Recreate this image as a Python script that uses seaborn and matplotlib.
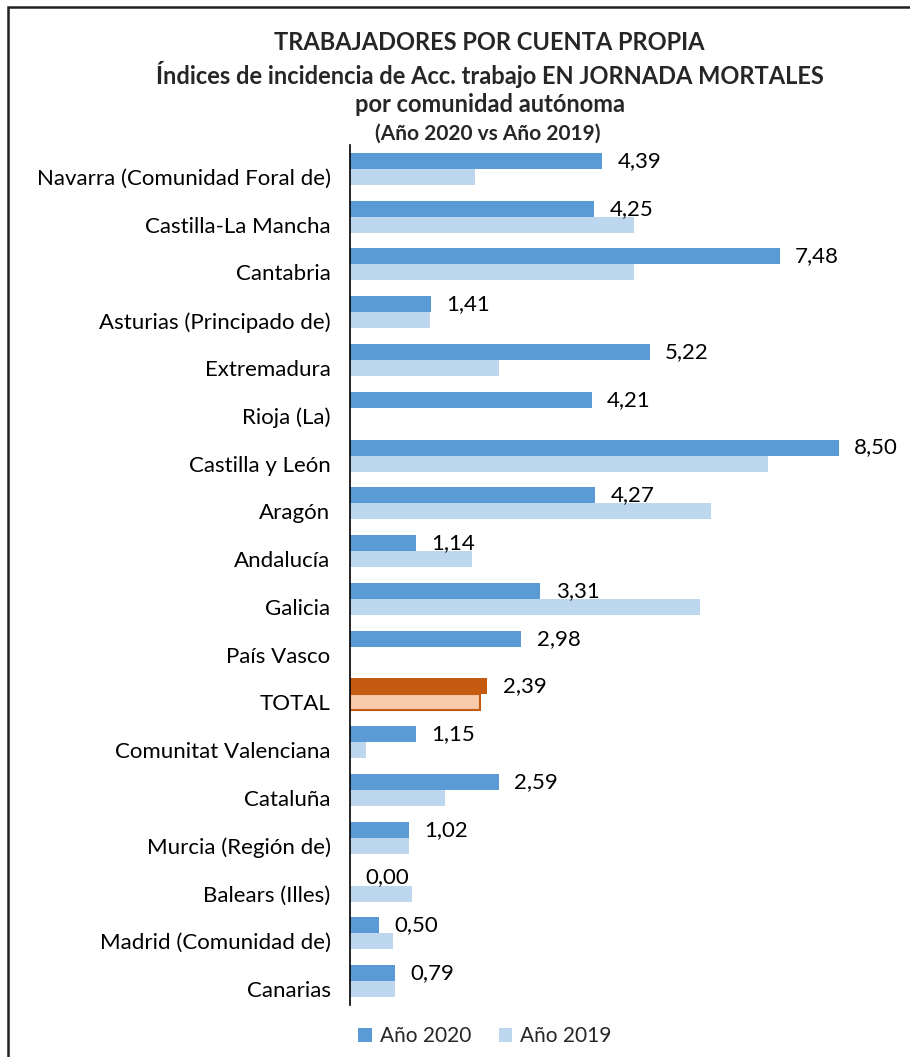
import matplotlib
matplotlib.use("Agg")
import matplotlib.pyplot as plt
import matplotlib.transforms as mtransforms
import seaborn as sns
import pandas as pd
from matplotlib.patches import Rectangle, Patch

categories = ["Navarra (Comunidad Foral de)", "Castilla-La Mancha", "Cantabria",
              "Asturias (Principado de)", "Extremadura", "Rioja (La)", "Castilla y León",
              "Aragón", "Andalucía", "Galicia", "País Vasco", "TOTAL",
              "Comunitat Valenciana", "Cataluña", "Murcia (Región de)", "Balears (Illes)",
              "Madrid (Comunidad de)", "Canarias"]
values_2020 = [4.39, 4.25, 7.48, 1.41, 5.22, 4.21, 8.50, 4.27, 1.14, 3.31, 2.98, 2.39,
               1.15, 2.59, 1.02, 0.00, 0.50, 0.79]
values_2019 = [2.17, 4.95, 4.95, 1.39, 2.60, 0.00, 7.27, 6.28, 2.12, 6.09, 0.00, 2.26,
               0.28, 1.65, 1.02, 1.08, 0.75, 0.78]
series = ["Año 2020", "Año 2019"]

sns.set_theme(style="white")
plt.rcParams['font.family'] = ['Lato', 'DejaVu Sans']

df = pd.DataFrame({
    "Comunidad": categories * 2,
    "Valor": values_2020 + values_2019,
    "Año": [series[0]] * len(categories) + [series[1]] * len(categories),
})

c2020, c2019 = "#5B9BD5", "#BDD7EE"
fig = plt.figure(figsize=(9.10, 10.57), dpi=100)
ax = fig.add_axes([350/910, 1-1005/1057, 546/910, 860/1057])
sns.barplot(data=df, y="Comunidad", x="Valor", hue="Año", orient="h",
            palette=[c2020, c2019], width=0.67, ax=ax, legend=False,
            saturation=1, edgecolor="none")

ax.set_xlim(0, 9.5)
ax.set_ylim(len(categories) - 0.5, -0.5)
ax.set_xlabel("")
ax.set_ylabel("")
ax.set_xticks([])
for s in ["top", "right", "bottom"]:
    ax.spines[s].set_visible(False)
ax.spines["left"].set_color("black")
ax.spines["left"].set_linewidth(1.2)
ax.tick_params(axis="y", length=0, pad=14, labelsize=16, labelcolor="black")
offset = mtransforms.ScaledTranslation(0, -8/100, fig.dpi_scale_trans)
for lbl in ax.get_yticklabels():
    lbl.set_transform(lbl.get_transform() + offset)

# TOTAL colouring
ti = categories.index("TOTAL")
c0, c1 = ax.containers[0], ax.containers[1]
c0.patches[ti].set_facecolor("#C55A11")
c1.patches[ti].set_facecolor("#F8CBAD")
c1.patches[ti].set_edgecolor("#C55A11")
c1.patches[ti].set_linewidth(1.5)

ax.bar_label(c0, labels=[f"{v:.2f}".replace(".", ",") for v in values_2020],
             padding=11, fontsize=16, color="black")

fig.text(0.538, 1-43/1057, "TRABAJADORES POR CUENTA PROPIA", ha="center", va="center",
         fontsize=17, fontweight="bold")
fig.text(0.538, 1-74/1057, "Índices de incidencia de Acc. trabajo EN JORNADA MORTALES",
         ha="center", va="center", fontsize=17, fontweight="bold")
fig.text(0.538, 1-105/1057, "por comunidad autónoma", ha="center", va="center",
         fontsize=17, fontweight="bold")
fig.text(0.536, 1-134/1057, "(Año 2020 vs Año 2019)", ha="center", va="center",
         fontsize=15, fontweight="bold")

handles = [Patch(facecolor=c2020, edgecolor="none"), Patch(facecolor=c2019, edgecolor="none")]
fig.legend(handles, series, loc="center", bbox_to_anchor=(0.533, 1-1036/1057), ncol=2,
           frameon=False, fontsize=15, handlelength=0.65, handleheight=0.65,
           handletextpad=0.4, columnspacing=1.3)

fig.patches.append(Rectangle((8/910, -0.1), 1.2, 1.1 - 7/1057, transform=fig.transFigure,
                             fill=False, edgecolor="#222222", linewidth=1.8))

fig.savefig("out.png", dpi=100)
